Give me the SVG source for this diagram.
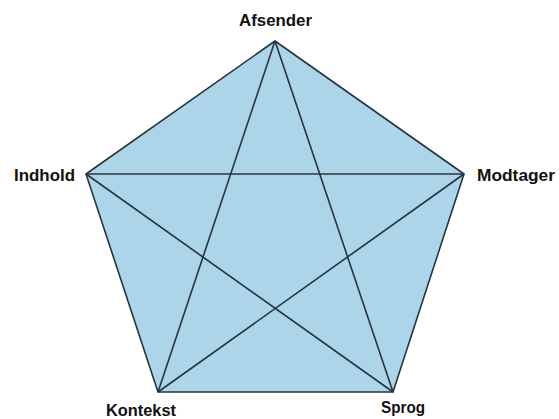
<svg xmlns="http://www.w3.org/2000/svg" width="559" height="419" viewBox="0 0 559 419">
<style>
.lbl{font-family:"Liberation Sans",Arial,sans-serif;font-weight:bold;font-size:17px;fill:#111}
.edge{stroke:#26343c;stroke-width:1.6;fill:none;stroke-linejoin:round}
</style>
<rect width="559" height="419" fill="#ffffff"/>
<g id="pentagon">
<polygon points="275,41 464,174 393,392 158,392 86,174" fill="#acd5e9" stroke="#26343c" stroke-width="1.6" stroke-linejoin="round"/>
</g>
<g id="connectors">
<line class="edge" x1="275" y1="41" x2="158" y2="392"/>
<line class="edge" x1="275" y1="41" x2="393" y2="392"/>
<line class="edge" x1="86" y1="174" x2="464" y2="174"/>
<line class="edge" x1="86" y1="174" x2="393" y2="392"/>
<line class="edge" x1="464" y1="174" x2="158" y2="392"/>
</g>
<g id="afsender"><text class="lbl" x="239" y="26" textLength="73" lengthAdjust="spacingAndGlyphs">Afsender</text></g>
<g id="indhold"><text class="lbl" x="14" y="181" textLength="61" lengthAdjust="spacingAndGlyphs">Indhold</text></g>
<g id="modtager"><text class="lbl" x="477" y="181" textLength="78" lengthAdjust="spacingAndGlyphs">Modtager</text></g>
<g id="kontekst"><text class="lbl" x="106" y="416" textLength="70" lengthAdjust="spacingAndGlyphs">Kontekst</text></g>
<g id="sprog"><text class="lbl" x="381" y="413" textLength="44" lengthAdjust="spacingAndGlyphs">Sprog</text></g>
</svg>
